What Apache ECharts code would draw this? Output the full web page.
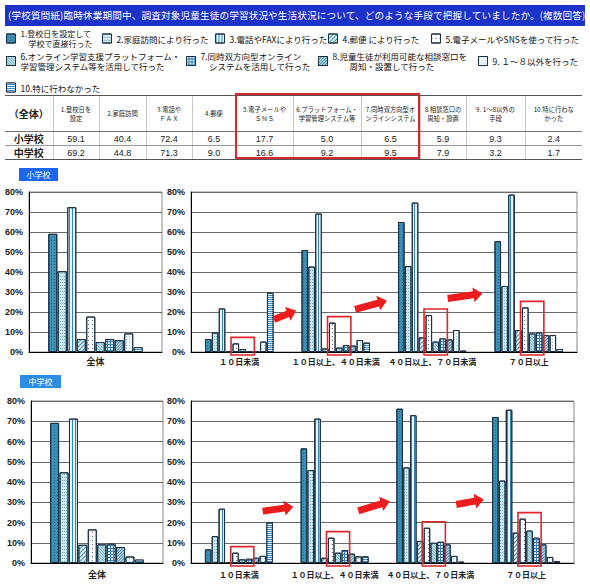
<!DOCTYPE html>
<html>
<head>
<meta charset="utf-8">
<script src="https://cdn.jsdelivr.net/npm/echarts@6/dist/echarts.min.js"></script>
<style>
	body { margin:0; background:#fff; }
	#wrap { position:relative; width:590px; height:587px; overflow:hidden; font-family:"Noto Sans CJK JP", sans-serif; }
	#chart { position:absolute; left:0; top:0; width:590px; height:587px; }
	.title { position:absolute; left:5px; top:5px; width:580px; height:21px; background:#1d32c8; color:#fff; font-size:9.6px; letter-spacing:0.15px; line-height:21px; white-space:nowrap; padding-left:3px; box-sizing:border-box; overflow:hidden; }
	table.sum { position:absolute; left:5px; top:95px; border-collapse:collapse; table-layout:fixed; color:#222; }
	table.sum td { text-align:center; vertical-align:middle; border-left:1px solid #c8c8c8; padding:0; font-family:"Liberation Sans","Noto Sans CJK JP",sans-serif; font-size:9px; height:13px; line-height:12px; overflow:hidden; }
	table.sum td:first-child { border-left:none; font-family:"Noto Sans CJK JP"; font-weight:bold; font-size:10px; }
	table.sum tr.head td { height:35px; font-size:6.3px; line-height:9px; font-family:"Noto Sans CJK JP"; border-top:1px solid #555; border-bottom:1px solid #777; }
	table.sum tr.head td:first-child { font-size:10px; }
	table.sum tr.r1 td { border-bottom:1px solid #999; }
	table.sum tr.r2 td { border-bottom:1px solid #555; }
	.redFrame { position:absolute; left:235px; top:93px; width:185px; height:66px; border:2px solid #d9262c; box-sizing:border-box; }
	.tag { position:absolute; height:13px; line-height:13px; color:#fff; font-size:8px; text-align:center; }
</style>
</head>
<body>
<div id="wrap">
	<div id="chart"></div>
	<div class="title">(学校質問紙)臨時休業期間中、調査対象児童生徒の学習状況や生活状況について、どのような手段で把握していましたか。(複数回答)</div>
	<table class="sum" id="sumTable"></table>
	<div class="redFrame"></div>
	<div class="tag" style="left:19px;top:168px;width:39px;background:#1a66ee;">小学校</div>
	<div class="tag" style="left:20px;top:375px;width:41px;background:#2c8de6;">中学校</div>
</div>
<script>
	/*---------- データ ----------*/
	var methodNames = [
		'1.登校日を設定して\n　学校で直接行った',
		'2.家庭訪問により行った',
		'3.電話やFAXにより行った',
		'4.郵便 により行った',
		'5.電子メールやSNSを使って行った',
		'6.オンライン学習支援プラットフォーム・\n学習管理システム等を活用して行った',
		'7.同時双方向型オンライン\n　システムを活用して行った',
		'8.児童生徒が利用可能な相談窓口を\n　　周知・設置して行った',
		'9. １～８以外を行った',
		'10.特に行わなかった'
	];
	var tableHeads = ['（全体）', '1.登校日を<br>設定', '2.家庭訪問', '3.電話や<br>ＦＡＸ', '4.郵便', '5.電子メールや<br>ＳＮＳ',
		'6.プラットフォーム・<br>学習管理システム等', '7.同時双方向型オ<br>ンラインシステム', '8.相談窓口の<br>周知・設置', '9. 1～8以外の<br>手段', '10.特に行わな<br>かった'];
	var schoolNames = ['小学校', '中学校'];
	var allCats = ['全体'];
	var periodCats = ['１０日未満', '１０日以上、４０日未満', '４０日以上、７０日未満', '７０日以上'];

	// 全体
	var elemAll = [59.1, 40.4, 72.4, 6.5, 17.7, 5.0, 6.5, 5.9, 9.3, 2.4];
	var juniorAll = [69.2, 44.8, 71.3, 9.0, 16.6, 9.2, 9.5, 7.9, 3.2, 1.7];
	// 小学校 休業日数別
	var elemUnder10 = [6.5, 9.7, 21.8, 0.3, 4.3, 1.5, 0.5, 0.5, 5.2, 29.7];
	var elem10to40 = [51, 42.7, 69.2, 1.8, 14.7, 2.2, 3.5, 3.2, 6, 4.7];
	var elem40to70 = [65, 43, 74.7, 7.3, 18.5, 5.2, 6.8, 6.3, 11, 0.7];
	var elemOver70 = [55.4, 33, 78.7, 11, 22.3, 9.3, 9.7, 8.5, 8.5, 1.5];
	// 中学校 休業日数別
	var juniorUnder10 = [6.7, 13.3, 26.8, 0.3, 5.1, 1.8, 2.1, 2.6, 3.5, 20.2];
	var junior10to40 = [56.6, 45.9, 71.3, 2.6, 12.5, 5.1, 6.4, 4.6, 3.3, 3.3];
	var junior40to70 = [76.2, 47.2, 73, 10.9, 17.4, 10, 10.5, 9.2, 3.5, 0.7];
	var juniorOver70 = [72.1, 40.7, 75.7, 15, 21.9, 16, 12.5, 9.2, 3, 1];
	/*----------------------------------*/

	/*---------- 表 ----------*/
	var colWidths = [48, 46, 47, 46, 44, 57, 68, 59, 46, 59, 57];
	var html = '<colgroup>';
	for (var i = 0; i < colWidths.length; i++) {
		html += '<col style="width:' + colWidths[i] + 'px">';
	}
	html += '</colgroup><tr class="head">';
	for (var i = 0; i < tableHeads.length; i++) {
		html += '<td>' + tableHeads[i] + '</td>';
	}
	html += '</tr>';
	var rows = [elemAll, juniorAll];
	for (var r = 0; r < rows.length; r++) {
		html += '<tr class="r' + (r + 1) + '"><td>' + schoolNames[r] + '</td>';
		for (var i = 0; i < rows[r].length; i++) {
			html += '<td>' + rows[r][i].toFixed(1) + '</td>';
		}
		html += '</tr>';
	}
	document.getElementById('sumTable').innerHTML = html;
	/*----------------------------------*/

	/*---------- 模様 ----------*/
	var Q = Math.PI / 4;
	var styles = [
		{ color:'#3a91b5', decal:{ symbol:'rect', dashArrayX:[1, 2], dashArrayY:[1, 2], color:'#23698a' } },
		{ color:'#cfe7ee', decal:{ symbol:'rect', dashArrayX:[1, 1], dashArrayY:[1, 2], color:'#78b2c5' } },
		{ color:'#eaf6fd', decal:{ symbol:'rect', dashArrayX:[1, 2], dashArrayY:[1, 0], color:'#2f86c0' } },
		{ color:'#e0f0f5', decal:{ symbol:'rect', dashArrayX:[1, 2], dashArrayY:[1, 0], rotation:Q, color:'#3e8fb0' } },
		{ color:'#ffffff', decal:{ symbol:'rect', dashArrayX:[1, 3], dashArrayY:[1, 3], color:'#52758c' } },
		{ color:'#d9eef4', decal:{ symbol:'rect', dashArrayX:[1, 1], dashArrayY:[1, 0], rotation:-Q, color:'#6ab0c8' } },
		{ color:'#3580bb', decal:{ symbol:'rect', dashArrayX:[2, 1], dashArrayY:[2, 1], color:'#d6edfb' } },
		{ color:'#d3eaf2', decal:{ symbol:'rect', dashArrayX:[1, 1], dashArrayY:[1, 0], rotation:Q, color:'#3d8aab' } },
		{ color:'#f2f9fb', decal:{ symbol:'rect', dashArrayX:[1, 2], dashArrayY:[1, 2], color:'#8fb7c6' } },
		{ color:'#3a8cc6', decal:{ symbol:'rect', dashArrayX:[1, 0], dashArrayY:[1, 1], color:'#e4f3fc' } }
	];
	/*----------------------------------*/

	/*---------- グラフ ----------*/
	var grids = [
		{ left:29, top:192, width:133, height:160 },
		{ left:191, top:192, width:386, height:160 },
		{ left:31, top:401, width:132, height:162 },
		{ left:191, top:401, width:383, height:162 }
	];
	var gridCats = [allCats, periodCats, allCats, periodCats];
	var gridData = [
		[elemAll],
		[elemUnder10, elem10to40, elem40to70, elemOver70],
		[juniorAll],
		[juniorUnder10, junior10to40, junior40to70, juniorOver70]
	];
	// アイコン左上の位置
	var legendPos = [[6, 34], [102, 34], [215, 34], [328, 34], [431, 34], [6, 56.5], [186, 56.5], [318, 56.5], [478, 56.5], [6, 83]];
	var legendLine = 10.5;

	var xAxes = [], yAxes = [], series = [], legends = [];
	for (var g = 0; g < grids.length; g++) {
		grids[g].show = true;
		grids[g].borderColor = '#8a8a8a';
		grids[g].borderWidth = 1;
		xAxes.push({
			type:'category', gridIndex:g, data:gridCats[g],
			axisLine:{ lineStyle:{ color:'#000' } },
			axisTick:{ show:false },
			axisLabel:{ interval:0, margin:g < 2 ? 5 : 7, color:'#222', fontWeight:'bold',
				fontSize:g % 2 ? 8 : 9, fontFamily:'Noto Sans CJK JP' }
		});
		yAxes.push({
			type:'value', gridIndex:g, min:0, max:80, interval:10,
			axisLine:{ show:true, lineStyle:{ color:'#000' } },
			axisTick:{ show:false },
			splitLine:{ lineStyle:{ color:'#6a6a6a', width:1 } },
			axisLabel:{ formatter:'{value}%', fontSize:9, fontWeight:'bold', color:'#222', margin:6, fontFamily:'Liberation Sans' }
		});
		for (var s = 0; s < methodNames.length; s++) {
			var d = [];
			for (var c = 0; c < gridData[g].length; c++) {
				d.push(gridData[g][c][s]);
			}
			series.push({
				name:methodNames[s], type:'bar', xAxisIndex:g, yAxisIndex:g, data:d,
				barCategoryGap:'29%', barGap:'5%',
				itemStyle:{ color:styles[s].color, decal:styles[s].decal, borderColor:'#1c3044', borderWidth:1 },
				animation:false
			});
		}
	}
	for (var i = 0; i < methodNames.length; i++) {
		var twoLine = methodNames[i].indexOf('\n') >= 0;
		// 2行の凡例は1行目をアイコンに揃えるため上に余白を入れ、その分 top を戻す
		var boxH = twoLine ? legendLine * 3 : legendLine;
		var shift = boxH / 2 - 4.5;
		legends.push({
			data:[methodNames[i]], left:legendPos[i][0], top:legendPos[i][1] - shift,
			itemWidth:9, itemHeight:9, icon:'rect', selectedMode:false, padding:0,
			itemStyle:{ borderWidth:1, borderColor:'#1c3044' },
			textStyle:{ fontSize:i === 0 ? 8 : 8.5, lineHeight:legendLine, color:'#111', fontFamily:'Noto Sans CJK JP',
				padding:twoLine ? [legendLine, 0, 0, 0] : 0 }
		});
	}

	var chart = echarts.init(document.getElementById('chart'), null, { renderer:'svg' });
	chart.setOption({
		backgroundColor:'#fff',
		animation:false,
		legend:legends,
		grid:grids,
		xAxis:xAxes,
		yAxis:yAxes,
		series:series
	});
	/*----------------------------------*/

	/*---------- 赤枠と矢印 ----------*/
	var gfx = [];
	var gapRatio = 0.05;
	function addFrames(g) {
		var band = grids[g].width / gridCats[g].length;
		var usable = band * (1 - 0.29);
		var barW = usable / (10 + 9 * gapRatio);
		for (var c = 0; c < gridCats[g].length; c++) {
			var cx = chart.convertToPixel({ xAxisIndex:g }, c);
			var start = cx - usable / 2;
			var vals = gridData[g][c];
			var top = chart.convertToPixel({ yAxisIndex:g }, Math.max(vals[4], vals[5], vals[6]) + 3);
			var x1 = start + 4 * barW * (1 + gapRatio) - 1.5;
			var x2 = start + 6 * barW * (1 + gapRatio) + barW + 1.5;
			gfx.push({
				type:'rect', z:100,
				shape:{ x:x1, y:top, width:x2 - x1, height:grids[g].top + grids[g].height + 3 - top },
				style:{ fill:'none', stroke:'#e0262b', lineWidth:1.6 }
			});
		}
	}
	addFrames(1);
	addFrames(3);

	function arrow(cx, cy, len, deg) {
		var h = len / 2;
		return {
			type:'polygon', z:100, x:cx, y:cy, rotation:deg * Math.PI / 180,
			shape:{ points:[[-h, -3.5], [h - 9, -3.5], [h - 9, -7.5], [h, 0], [h - 9, 7.5], [h - 9, 3.5], [-h, 3.5]] },
			style:{ fill:'#ee1c1c' }
		};
	}
	gfx.push(arrow(285, 315, 24, 22));
	gfx.push(arrow(371, 305, 33, 15));
	gfx.push(arrow(465, 296, 35, 8));
	gfx.push(arrow(278, 509, 31, 8));
	gfx.push(arrow(374, 506, 33, 17));
	gfx.push(arrow(470, 502, 28, 10));
	chart.setOption({ graphic:gfx });
	/*----------------------------------*/
</script>
</body>
</html>
